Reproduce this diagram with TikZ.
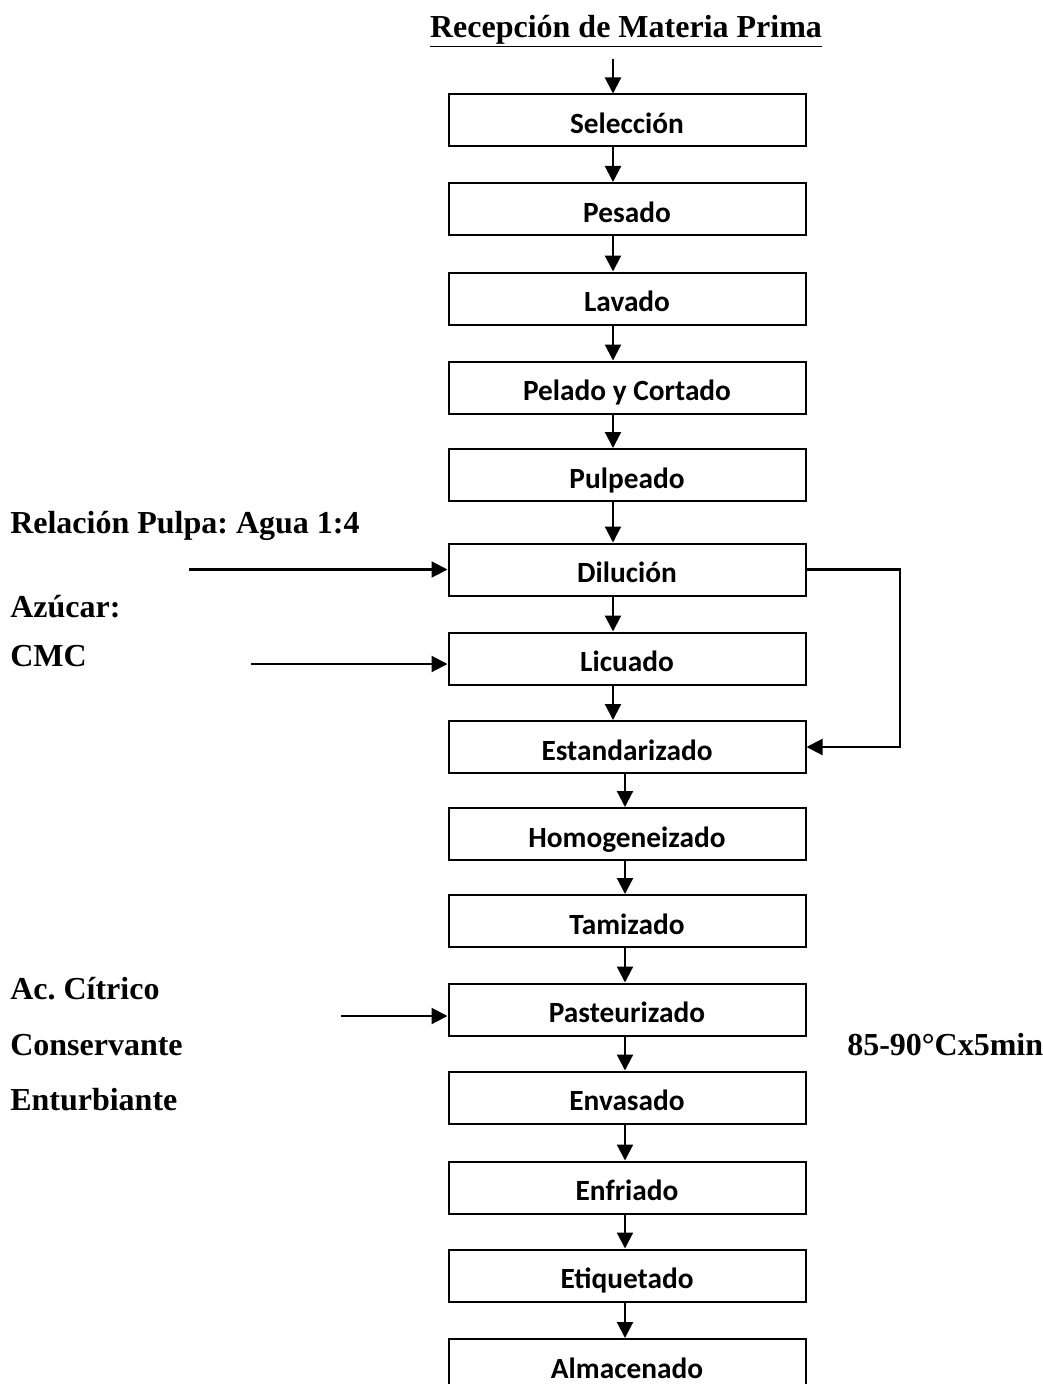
\documentclass[tikz,border=0pt]{standalone}
\usepackage{fontspec}
\setmainfont{Liberation Serif}
\newfontfamily\boxfont{Carlito}
\usetikzlibrary{arrows.meta,calc}
\frenchspacing
\begin{document}
\begin{tikzpicture}[x=0.75pt,y=-0.75pt,
  stepbox/.style={draw, line width=1.5pt, minimum width=267.75pt, minimum height=39pt,
    inner sep=0pt, text height=19.5pt, text depth=0pt,
    font=\boxfont\bfseries\fontsize{22}{26}\selectfont},
  lbl/.style={anchor=base west, inner sep=0pt, font=\bfseries\fontsize{24}{28}\selectfont},
  arr/.style={line width=1.6pt, -{Triangle[length=12pt,width=12pt]}},
  lin/.style={line width=1.6pt}]
\clip (0,0) rectangle (1042,1384);
\useasboundingbox (0,0) rectangle (1042,1384);

\node[anchor=base, inner sep=0pt, font=\bfseries\fontsize{24}{28}\selectfont] (title) at (626,38) {\underline{Recepción de Materia Prima}};

\node[stepbox] (sel) at (627,120.5) {Selección};
\node[stepbox] (pes) at (627,209) {Pesado};
\node[stepbox] (lav) at (627,298.5) {Lavado};
\node[stepbox] (pel) at (627,387.5) {Pelado y Cortado};
\node[stepbox] (pul) at (627,475) {Pulpeado};
\node[stepbox] (dil) at (627,569.5) {Dilución};
\node[stepbox] (lic) at (627,658.5) {Licuado};
\node[stepbox] (est) at (627,747) {Estandarizado};
\node[stepbox] (hom) at (627,834) {Homogeneizado};
\node[stepbox] (tam) at (627,921) {Tamizado};
\node[stepbox] (pas) at (627,1009.5) {Pasteurizado};
\node[stepbox] (env) at (627,1097.5) {Envasado};
\node[stepbox] (enf) at (627,1187.5) {Enfriado};
\node[stepbox] (eti) at (627,1275.5) {Etiquetado};
\node[stepbox] (alm) at (627,1365) {Almacenado};

\coordinate (ax) at (613,0);
\coordinate (bx) at (625,0);
\coordinate (top) at (613,59);

\draw[arr] (top) -- (sel.north -| ax);
\draw[arr] (sel.south -| ax) -- (pes.north -| ax);
\draw[arr] (pes.south -| ax) -- (lav.north -| ax);
\draw[arr] (lav.south -| ax) -- (pel.north -| ax);
\draw[arr] (pel.south -| ax) -- (pul.north -| ax);
\draw[arr] (pul.south -| ax) -- (dil.north -| ax);
\draw[arr] (dil.south -| ax) -- (lic.north -| ax);
\draw[arr] (lic.south -| ax) -- (est.north -| ax);
\draw[arr] (est.south -| bx) -- (hom.north -| bx);
\draw[arr] (hom.south -| bx) -- (tam.north -| bx);
\draw[arr] (tam.south -| bx) -- (pas.north -| bx);
\draw[arr] (pas.south -| bx) -- (env.north -| bx);
\draw[arr] (env.south -| bx) -- (enf.north -| bx);
\draw[arr] (enf.south -| bx) -- (eti.north -| bx);
\draw[arr] (eti.south -| bx) -- (alm.north -| bx);

% loop
\coordinate (loopx) at (900,0);
\draw[arr] (dil.east) -- (dil.east -| loopx) -- (est.east -| loopx) -- (est.east);

% left inputs
\node[lbl] (rel) at (10,533) {Relación Pulpa: Agua 1:4};
\node[lbl] (azu) at (10,617) {Azúcar:};
\node[lbl] (cmc) at (10,666) {CMC};
\node[lbl] (aci) at (10,999) {Ac. Cítrico};
\node[lbl] (con) at (10,1055) {Conservante};
\node[lbl] (ent) at (10,1110) {Enturbiante};
\node[lbl] (tmp) at (847,1055) {85-90°Cx5min};

\coordinate (indil) at (189,569.5);
\coordinate (inlic) at (251,664);
\coordinate (inpas) at (341,1016);
\draw[arr] (indil) -- (dil.west);
\draw[arr] (inlic) -- (inlic -| lic.west);
\draw[arr] (inpas) -- (inpas -| pas.west);
\end{tikzpicture}
\end{document}
